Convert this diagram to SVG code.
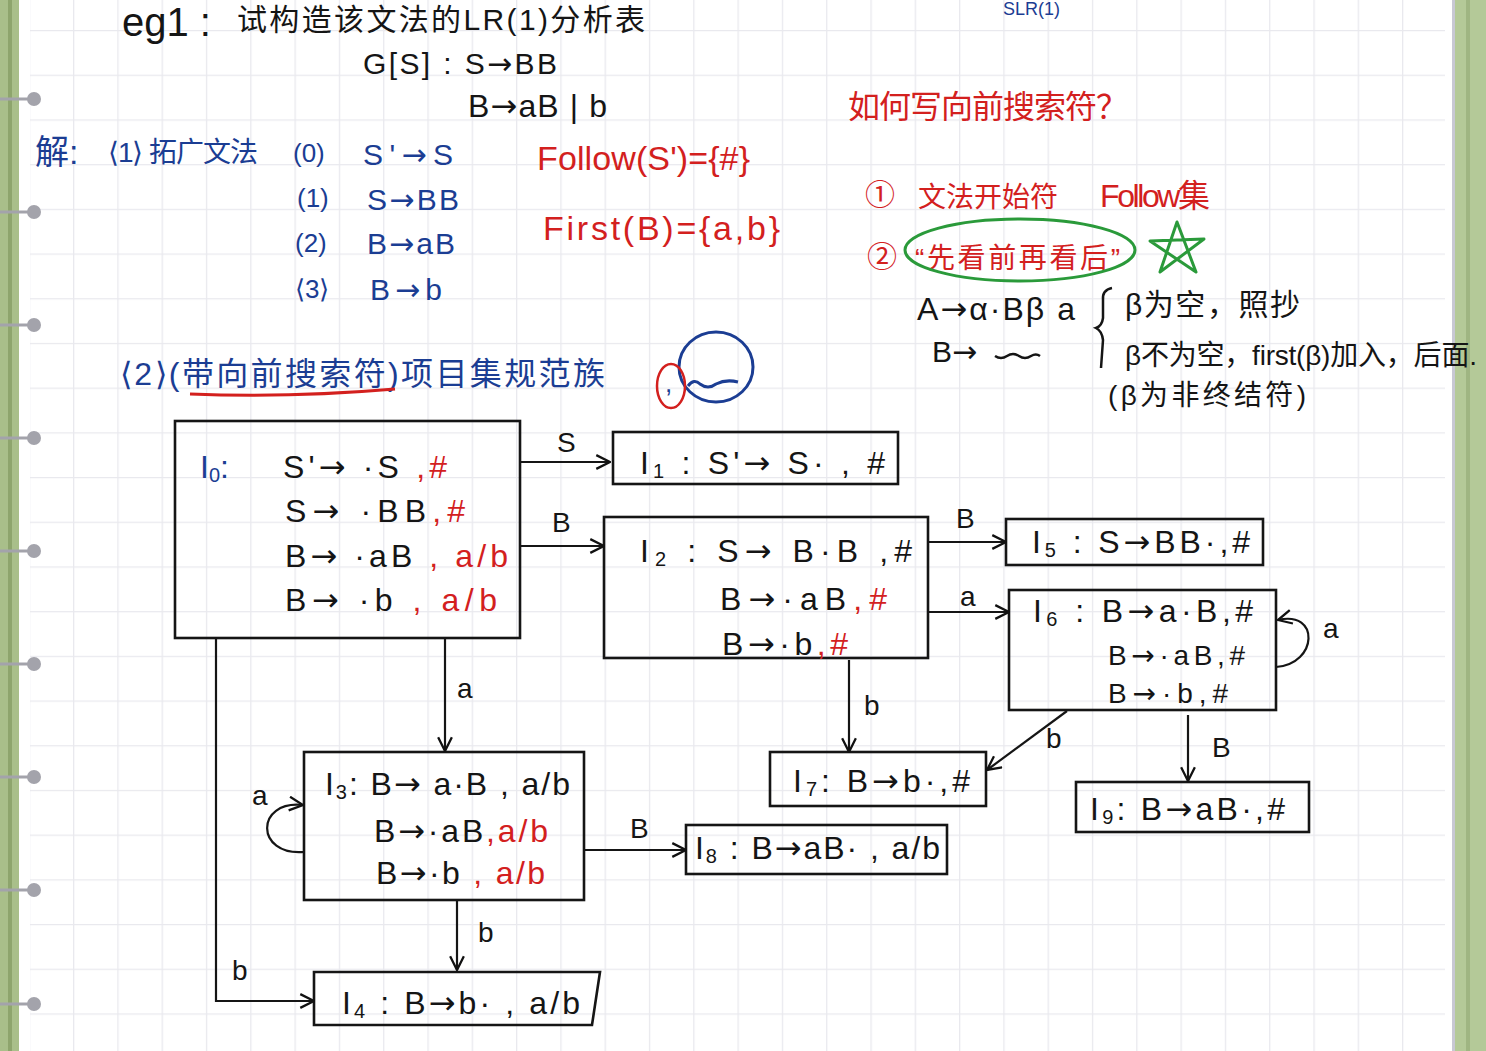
<svg xmlns="http://www.w3.org/2000/svg" width="1486" height="1051" viewBox="0 0 1486 1051">
<defs>
<pattern id="grid" x="73" y="30" width="44.3" height="44.7" patternUnits="userSpaceOnUse">
<path d="M0,0.5 H44.3 M0.5,0 V44.7" stroke="#e9e9ee" stroke-width="1.6" fill="none"/>
</pattern>
<marker id="arr" viewBox="0 0 14 14" refX="13" refY="7" markerWidth="16" markerHeight="16" markerUnits="userSpaceOnUse" orient="auto">
<path d="M1,1 L13,7 L1,13" fill="none" stroke="#111" stroke-width="2"/>
</marker>
<style>
text{font-family:"Liberation Sans","Noto Sans CJK SC",sans-serif;}
.ar{font-family:"DejaVu Sans",sans-serif;}
.k{fill:#151515;}
.r{fill:#d3201e;}
.b{fill:#1b3d93;}
.box{fill:none;stroke:#151515;stroke-width:2.6;}
.edge{fill:none;stroke:#151515;stroke-width:2.2;marker-end:url(#arr);}
.st{font-size:32px;}
.lbl{font-size:28px;fill:#151515;}
.ring{fill:#a3a3ab;}
</style>
</defs>
<rect width="1486" height="1051" fill="#ffffff"/>
<rect x="30" y="0" width="1415" height="1051" fill="url(#grid)"/>
<rect x="0" y="0" width="19" height="1051" fill="#a9bf8a"/>
<rect x="8" y="0" width="4" height="1051" fill="#8ea56d"/>
<rect x="1452" y="0" width="3" height="1051" fill="#c8c8d4"/>
<rect x="1455" y="0" width="31" height="1051" fill="#b4c998"/>
<rect x="1466" y="0" width="4" height="1051" fill="#9fb582"/>
<g id="rings">
<path d="M0,99 H34 M0,212 H34 M0,325 H34 M0,438 H34 M0,551 H34 M0,664 H34 M0,777 H34 M0,890 H34 M0,1004 H34" stroke="#a3a3ab" stroke-width="3"/>
<circle class="ring" cx="34" cy="99" r="7"/><circle class="ring" cx="34" cy="212" r="7"/><circle class="ring" cx="34" cy="325" r="7"/>
<circle class="ring" cx="34" cy="438" r="7"/><circle class="ring" cx="34" cy="551" r="7"/><circle class="ring" cx="34" cy="664" r="7"/>
<circle class="ring" cx="34" cy="777" r="7"/><circle class="ring" cx="34" cy="890" r="7"/><circle class="ring" cx="34" cy="1004" r="7"/>
</g>

<g id="title">
<text class="k" x="122" y="36" font-size="40">eg1 :</text>
<text class="k" x="237" y="30" font-size="30" textLength="408">试构造该文法的LR(1)分析表</text>
<text class="b" x="1003" y="15" font-size="18">SLR(1)</text>
<text class="k" x="363" y="74" font-size="30" textLength="194">G[S] : S<tspan class="ar">→</tspan>BB</text>
<text class="k" x="468" y="117" font-size="32" textLength="139">B<tspan class="ar">→</tspan>aB | b</text>
</g>

<g id="grammar">
<text class="b" x="35" y="164" font-size="34">解:</text>
<text class="b" x="108" y="162" font-size="28" textLength="150">⟨1⟩ 拓广文法</text>
<text class="b" x="293" y="162" font-size="26">(0)</text><text class="b" x="363" y="165" font-size="30" textLength="90">S'<tspan class="ar">→</tspan>S</text>
<text class="b" x="297" y="207" font-size="26">(1)</text><text class="b" x="367" y="210" font-size="30" textLength="92">S<tspan class="ar">→</tspan>BB</text>
<text class="b" x="295" y="252" font-size="26">(2)</text><text class="b" x="367" y="254" font-size="30" textLength="88">B<tspan class="ar">→</tspan>aB</text>
<text class="b" x="295" y="298" font-size="26">⟨3⟩</text><text class="b" x="370" y="300" font-size="30" textLength="72">B<tspan class="ar">→</tspan>b</text>
<text class="r" x="537" y="170" font-size="34" textLength="213">Follow(S')={#}</text>
<text class="r" x="543" y="240" font-size="34" textLength="237">First(B)={a,b}</text>
</g>

<g id="notes">
<text class="r" x="848" y="118" font-size="32" textLength="280">如何写向前搜索符？</text>
<text class="r" x="865" y="205" font-size="30">①</text>
<text class="r" x="918" y="207" font-size="28" textLength="140">文法开始符</text>
<text class="r" x="1100" y="207" font-size="32" textLength="110">Follow集</text>
<text class="r" x="867" y="267" font-size="30">②</text>
<text class="r" x="915" y="268" font-size="28" textLength="205">“先看前再看后”</text>
<ellipse cx="1020" cy="250" rx="115" ry="31" fill="none" stroke="#2a9a3a" stroke-width="3"/>
<path d="M1160,272 L1177,222 L1196,272 L1150,241 L1204,239 Z" fill="none" stroke="#2a9a3a" stroke-width="3" stroke-linejoin="round"/>
<text class="k" x="917" y="320" font-size="32" textLength="158">A<tspan class="ar">→</tspan>α·Bβ a</text>
<path d="M1112,288 Q1102,290 1103,300 L1103,318 Q1102,326 1096,328 Q1102,331 1103,340 L1101,368" fill="none" stroke="#151515" stroke-width="2.5"/>
<text class="k" x="1125" y="315" font-size="30" textLength="175">β为空，照抄</text>
<text class="k" x="932" y="362" font-size="30">B<tspan class="ar">→</tspan></text>
<path d="M995,356 q6,4 12,0 q6,-4 12,0 q6,4 12,0 q5,-3 9,0" fill="none" stroke="#151515" stroke-width="2.5"/>
<text class="k" x="1125" y="365" font-size="28" textLength="352">β不为空，first(β)加入，后面.</text>
<text class="k" x="1108" y="405" font-size="28" textLength="198">(β为非终结符)</text>
</g>

<g id="heading2">
<text class="b" x="120" y="385" font-size="32" textLength="485">⟨2⟩(带向前搜索符)项目集规范族</text>
<path d="M190,394 Q290,398 395,389" fill="none" stroke="#d3201e" stroke-width="3"/>
<ellipse cx="716" cy="367" rx="37" ry="35" fill="none" stroke="#1b3d93" stroke-width="3"/>
<path d="M688,386 q6,-8 12,-2 q8,6 16,0 q10,-5 22,-2" fill="none" stroke="#1b3d93" stroke-width="3"/>
<text class="b" x="665" y="392" font-size="26">,</text>
<ellipse cx="671" cy="386" rx="14" ry="22" fill="none" stroke="#d3201e" stroke-width="2.5"/>
</g>

<g id="I0">
<rect class="box" x="175" y="421" width="345" height="217"/>
<text class="b st" x="200" y="478">I<tspan font-size="20" dy="4">0</tspan><tspan dy="-4">:</tspan></text>
<text class="k st" x="283" y="478" textLength="164">S'<tspan class="ar">→</tspan> ·S <tspan class="r">,#</tspan></text>
<text class="k st" x="285" y="522" textLength="180">S<tspan class="ar">→</tspan> ·BB<tspan class="r">,#</tspan></text>
<text class="k st" x="285" y="567" textLength="223">B<tspan class="ar">→</tspan> ·aB <tspan class="r">, a/b</tspan></text>
<text class="k st" x="285" y="611" textLength="212">B<tspan class="ar">→</tspan> ·b  <tspan class="r">, a/b</tspan></text>
</g>

<g id="I1">
<rect class="box" x="613" y="432" width="285" height="52"/>
<text class="k st" x="640" y="474" textLength="245">I<tspan font-size="20" dy="4">1</tspan><tspan dy="-4"> : S'<tspan class="ar">→</tspan> S· , #</tspan></text>
</g>

<g id="I2">
<rect class="box" x="604" y="517" width="324" height="141"/>
<text class="k st" x="640" y="562" textLength="272">I<tspan font-size="20" dy="4">2</tspan><tspan dy="-4"> : S<tspan class="ar">→</tspan> B·B ,#</tspan></text>
<text class="k st" x="720" y="610" textLength="167">B<tspan class="ar">→</tspan>·aB<tspan class="r">,#</tspan></text>
<text class="k st" x="722" y="655" textLength="126">B<tspan class="ar">→</tspan>·b<tspan class="r">,#</tspan></text>
</g>

<g id="I5">
<rect class="box" x="1006" y="519" width="257" height="46"/>
<text class="k st" x="1032" y="553" textLength="218">I<tspan font-size="20" dy="4">5</tspan><tspan dy="-4"> : S<tspan class="ar">→</tspan>BB·,#</tspan></text>
</g>

<g id="I6">
<rect class="box" x="1009" y="590" width="267" height="120"/>
<text class="k st" x="1033" y="622" textLength="220">I<tspan font-size="20" dy="4">6</tspan><tspan dy="-4"> : B<tspan class="ar">→</tspan>a·B,#</tspan></text>
<text class="k" x="1108" y="665" font-size="28" textLength="137">B<tspan class="ar">→</tspan>·aB,#</text>
<text class="k" x="1108" y="703" font-size="28" textLength="120">B<tspan class="ar">→</tspan>·b,#</text>
</g>

<g id="I7">
<rect class="box" x="770" y="752" width="216" height="54"/>
<text class="k st" x="793" y="792" textLength="177">I<tspan font-size="20" dy="4">7</tspan><tspan dy="-4">: B<tspan class="ar">→</tspan>b·,#</tspan></text>
</g>

<g id="I9">
<rect class="box" x="1076" y="782" width="233" height="50"/>
<text class="k st" x="1090" y="820" textLength="195">I<tspan font-size="20" dy="4">9</tspan><tspan dy="-4">: B<tspan class="ar">→</tspan>aB·,#</tspan></text>
</g>

<g id="I3">
<rect class="box" x="304" y="752" width="280" height="148"/>
<text class="k st" x="325" y="795" textLength="245">I<tspan font-size="20" dy="4">3</tspan><tspan dy="-4">: B<tspan class="ar">→</tspan> a·B , a/b</tspan></text>
<text class="k st" x="374" y="842" textLength="174">B<tspan class="ar">→</tspan>·aB<tspan class="r">,a/b</tspan></text>
<text class="k st" x="376" y="884" textLength="169">B<tspan class="ar">→</tspan>·b <tspan class="r">, a/b</tspan></text>
</g>

<g id="I8">
<rect class="box" x="686" y="825" width="261" height="49"/>
<text class="k st" x="695" y="859" textLength="245">I<tspan font-size="20" dy="4">8</tspan><tspan dy="-4"> : B<tspan class="ar">→</tspan>aB· , a/b</tspan></text>
</g>

<g id="I4">
<path class="box" d="M314,972 H600 L592,1025 H314 Z"/>
<text class="k st" x="342" y="1014" textLength="238">I<tspan font-size="20" dy="4">4</tspan><tspan dy="-4"> : B<tspan class="ar">→</tspan>b· , a/b</tspan></text>
</g>

<g id="connectors">
<path class="edge" d="M520,462 H610"/>
<path class="edge" d="M520,546 H604"/>
<path class="edge" d="M445,638 V751"/>
<path class="edge" d="M216,638 V1001 H314"/>
<path class="edge" d="M928,542 H1006"/>
<path class="edge" d="M928,612 H1009"/>
<path class="edge" d="M849,660 V752"/>
<path class="edge" d="M1067,711 L987,770"/>
<path class="edge" d="M1188,715 V781"/>
<path class="edge" d="M1276,667 C1318,664 1320,610 1278,620"/>
<path class="edge" d="M304,852 C255,856 255,800 303,805"/>
<path class="edge" d="M584,850 H686"/>
<path class="edge" d="M457,900 V970"/>
<text class="lbl" x="557" y="452">S</text>
<text class="lbl" x="552" y="532">B</text>
<text class="lbl" x="457" y="698">a</text>
<text class="lbl" x="232" y="980">b</text>
<text class="lbl" x="956" y="528">B</text>
<text class="lbl" x="960" y="606">a</text>
<text class="lbl" x="864" y="715">b</text>
<text class="lbl" x="1046" y="748">b</text>
<text class="lbl" x="1212" y="757">B</text>
<text class="lbl" x="1323" y="638">a</text>
<text class="lbl" x="252" y="805">a</text>
<text class="lbl" x="630" y="838">B</text>
<text class="lbl" x="478" y="942">b</text>
</g>
</svg>
